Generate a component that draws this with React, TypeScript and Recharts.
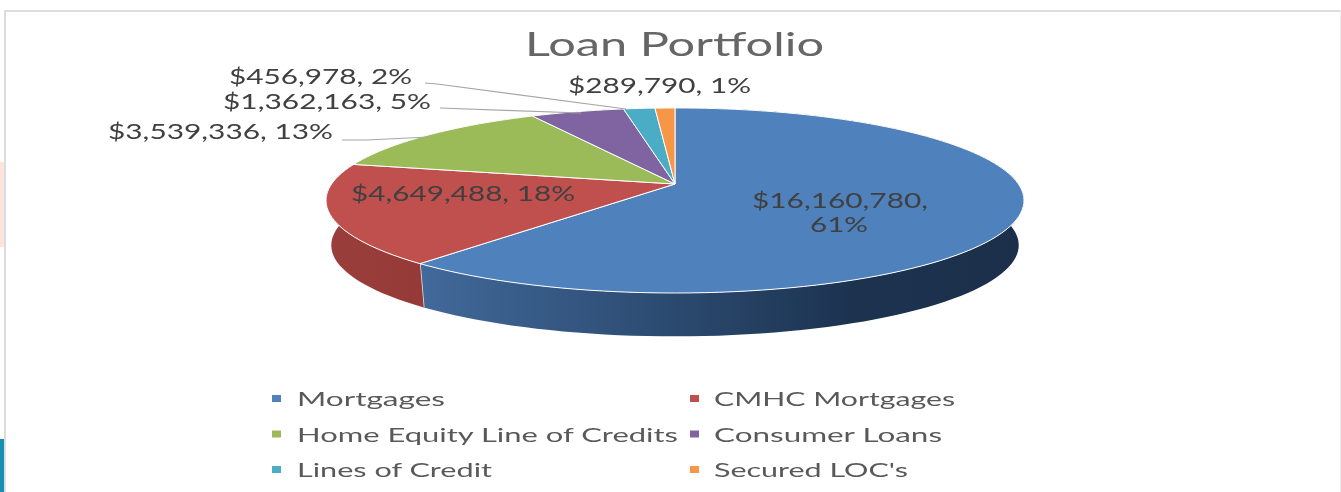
import React from 'react';
import { PieChart, Pie, Legend } from 'recharts';

const categories = ['Mortgages', 'CMHC Mortgages', 'Home Equity Line of Credits', 'Consumer Loans', 'Lines of Credit', "Secured LOC's"];
const values = [16160780, 4649488, 3539336, 1362163, 456978, 289790];
const percents = [61, 18, 13, 5, 2, 1];
const colors = ['#4f81bd', '#c0504d', '#9bbb59', '#8064a2', '#4bacc6', '#f79646'];
const wallColors = ['url(#blueWall)', 'url(#redWall)', '#7a9544', '#644e80', '#3a8a9e', '#c47636'];

const topData = categories.map((name, i) => ({ name, value: values[i], fill: colors[i] }));
const wallData = categories.map((name, i) => ({ name, value: values[i], fill: wallColors[i] }));

// hand placed labels, same as the manual positions in the source chart
const labelSpots: any = [
  { lines: [[752, 208, 176], [810, 232, 58]] },
  { lines: [[351, 201, 224]] },
  { lines: [[108, 139, 225]], leader: '342,140 367,140 429,137' },
  { lines: [[223, 109, 208]], leader: '440,108 581,113' },
  { lines: [[229, 84, 183]], leader: '425,83 437,84 626,109' },
  { lines: [[568, 93, 183]] },
];
const legendWidths = [148, 241, 381, 228, 195, 194];

const money = (v: number) => '$' + v.toLocaleString('en-US');

// tilted disc: perspective projection of the unit circle
const RAD = Math.PI / 180;
const project = (cx: number, cy: number, r: number, deg: number, k = 1, drop = 0) => {
  const u = Math.cos(deg * RAD);
  const v = -Math.sin(deg * RAD);
  const d = 1 - 0.178 * v;
  return [cx + (k * r * u) / d, cy + drop + (k * 89.6 * v) / d];
};

const arcPoints = (p: any, k = 1, drop = 0) => {
  const pts = [];
  const n = Math.max(2, Math.ceil(Math.abs(p.endAngle - p.startAngle) / 2));
  for (let i = 0; i <= n; i++) {
    const a = p.startAngle + ((p.endAngle - p.startAngle) * i) / n;
    pts.push(project(p.cx, p.cy, p.outerRadius, a, k, drop).join(','));
  }
  return pts;
};

const TopSlice = (p: any) => (
  <path d={`M${p.cx},${p.cy}L${arcPoints(p).join('L')}Z`} fill={p.fill} stroke="#fff" strokeWidth={1} />
);

const WallSlice = (p: any) => {
  const top = arcPoints(p);
  const low = arcPoints(p, 0.985, 45).reverse();
  const a = project(p.cx, p.cy, p.outerRadius, p.endAngle);
  const b = project(p.cx, p.cy, p.outerRadius, p.endAngle, 0.985, 45);
  return (
    <g>
      <path d={`M${top.join('L')}L${low.join('L')}Z`} fill={p.fill} />
      <line x1={a[0]} y1={a[1]} x2={b[0]} y2={b[1]} stroke="#e8e8e8" strokeWidth={1.5} />
    </g>
  );
};

const renderLabel = (p: any) => {
  const spot = labelSpots[p.index];
  const text = `${money(values[p.index])}, ${percents[p.index]}%`;
  const parts = spot.lines.length > 1 ? [`${money(values[p.index])},`, `${percents[p.index]}%`] : [text];
  return (
    <g key={p.index}>
      {spot.leader && <polyline points={spot.leader} fill="none" stroke="#a6a6a6" strokeWidth={1.2} />}
      {spot.lines.map((l: number[], i: number) => (
        <text key={i} x={l[0]} y={l[1]} textLength={l[2]} lengthAdjust="spacingAndGlyphs" fontFamily="Lato" fontSize={21} fill="#404040">
          {parts[i]}
        </text>
      ))}
    </g>
  );
};

const renderLegend = (props: any) => {
  // the wall pie also reports entries, keep only the top faces
  const items = (props.payload || []).filter((item: any) => colors.includes(item.color));
  return (
    <svg width={1341} height={112} style={{ display: 'block' }}>
      {items.map((item: any, i: number) => {
        const col = i % 2;
        const row = Math.floor(i / 2);
        const y = 19 + row * 35.5;
        return (
          <g key={item.value}>
            <rect x={col ? 690 : 272} y={y - 4} width={9} height={7} fill={item.color} />
            <text x={col ? 714 : 297} y={y + 7} textLength={legendWidths[i]} lengthAdjust="spacingAndGlyphs" fontFamily="Lato" fontSize={20} fill="#595959">
              {item.value}
            </text>
          </g>
        );
      })}
    </svg>
  );
};

export default function App() {
  return (
    <div style={{ position: 'fixed', left: 0, top: 0, width: 1341, height: 492, background: '#fff', overflow: 'hidden' }}>
      <div style={{ position: 'absolute', left: 0, top: 162, width: 4, height: 85, background: '#fce4d9' }} />
      <div style={{ position: 'absolute', left: 0, top: 439, width: 4, height: 53, background: '#178fb2' }} />
      <div style={{ position: 'absolute', left: 4, top: 10, width: 2, height: 482, background: '#dcdcdc' }} />
      <div style={{ position: 'absolute', left: 4, top: 10, width: 1337, height: 2, background: '#dcdcdc' }} />
      <div style={{ position: 'absolute', left: 1340, top: 10, width: 1, height: 482, background: '#eeeeee' }} />
      <div style={{ position: 'absolute', left: 0, top: 0, filter: 'blur(0.6px)' }}>
        <PieChart width={1341} height={492} margin={{ top: 0, right: 0, bottom: 0, left: 0 }}>
          <defs>
            <linearGradient id="blueWall" gradientUnits="userSpaceOnUse" x1={420} y1={0} x2={1020} y2={0}>
              <stop offset="0" stopColor="#41699a" />
              <stop offset="0.35" stopColor="#2f4f77" />
              <stop offset="0.72" stopColor="#1c3350" />
              <stop offset="1" stopColor="#1c2f4a" />
            </linearGradient>
            <linearGradient id="redWall" gradientUnits="userSpaceOnUse" x1={330} y1={0} x2={424} y2={0}>
              <stop offset="0" stopColor="#9a3e3b" />
              <stop offset="1" stopColor="#963a37" />
            </linearGradient>
          </defs>
          <text x={525} y={56} textLength={299} lengthAdjust="spacingAndGlyphs" fontFamily="Lato" fontSize={33} fill="#666666">
            Loan Portfolio
          </text>
          <Pie
            data={wallData}
            dataKey="value"
            nameKey="name"
            cx={675}
            cy={184}
            outerRadius={343.4}
            startAngle={90}
            endAngle={-270}
            legendType="none"
            shape={WallSlice}
            isAnimationActive={false}
          />
          <Pie
            data={topData}
            dataKey="value"
            nameKey="name"
            cx={675}
            cy={184}
            outerRadius={343.4}
            startAngle={90}
            endAngle={-270}
            shape={TopSlice}
            label={renderLabel}
            labelLine={false}
            isAnimationActive={false}
          />
          <Legend content={renderLegend} itemSorter={null} wrapperStyle={{ left: 0, top: 380, width: 1341, height: 112 }} />
        </PieChart>
      </div>
    </div>
  );
}
